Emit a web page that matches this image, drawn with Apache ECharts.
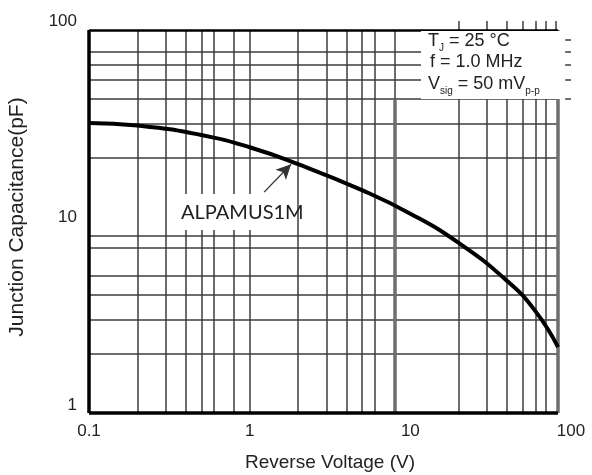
<!DOCTYPE html>
<html>
<head>
<meta charset="utf-8">
<script src="https://cdn.jsdelivr.net/npm/echarts@6/dist/echarts.min.js"></script>
<style>
  html, body { margin: 0; padding: 0; background: #fff; }
  #main { width: 592px; height: 475px; }
</style>
</head>
<body>
<div id="main"></div>
<script>
// curve
var voltage = [0.1, 0.2, 0.5, 1, 2, 5, 10, 20, 40, 60, 83];
var capacitance = [30.2, 29.3, 26.2, 22.7, 18.6, 13.7, 10.4, 7.37, 4.72, 3.31, 2.17];

// tick labels
var xTickLabels = ['0.1', '1', '10', '100'];
var yTickLabels = ['1', '10', '100'];

// printed grid of the sheet
var xGrid = [0.2, 0.3, 0.4, 0.5, 0.6, 0.8, 1, 2, 3, 4, 5, 6, 20, 30, 40, 50, 60, 70];
var yGrid = [2, 3, 4, 5, 7, 8, 20, 30, 40, 50, 60, 70];
var xFrame = [0.1, 83];
var yFrame = [1, 90];

var thin = { color: '#3c3c3c', width: 1.5, type: 'solid' };
var heavy = { color: '#6e6e6e', width: 3.5, type: 'solid' };
var border = { color: '#000', width: 2.5, type: 'solid' };
var thick = { color: '#000', width: 3.5, type: 'solid' };

function seg(x1, y1, x2, y2, st) {
  return [{ coord: [x1, y1], lineStyle: st }, { coord: [x2, y2], lineStyle: st }];
}

var gridLines = [];
xGrid.forEach(function (x) { gridLines.push(seg(x, yFrame[0], x, yFrame[1], thin)); });
yGrid.forEach(function (y) { gridLines.push(seg(xFrame[0], y, xFrame[1], y, thin)); });
// the 8 V line is drawn heavy below 40 pF
gridLines.push(seg(8, 40, 8, yFrame[1], thin));
gridLines.push(seg(8, yFrame[0], 8, 40, heavy));
// stubs poking out above the frame in the note corner
[20, 30, 40, 50, 60, 70, 80].forEach(function (x) { gridLines.push(seg(x, yFrame[1], x, 100, thin)); });
// dashes right of the note
[80, 70, 60, 50, 40].forEach(function (y) { gridLines.push(seg(92, y, 100, y, thin)); });
// frame
gridLines.push(seg(xFrame[1], yFrame[0], xFrame[1], yFrame[1], heavy));
gridLines.push(seg(xFrame[0], yFrame[1], xFrame[1], yFrame[1], border));
gridLines.push(seg(xFrame[0], yFrame[0], xFrame[1], yFrame[0], thick));
gridLines.push(seg(xFrame[0], yFrame[0], xFrame[0], yFrame[1], thick));

function pick(list, v) {
  for (var i = 0; i < list.length; i++) {
    if (Math.abs(Math.log10(+list[i]) - Math.log10(v)) < 1e-6) return list[i];
  }
  return '';
}

var font = 'Liberation Sans, Arial, sans-serif';
var myChart = echarts.init(document.getElementById('main'));

var option = {
  animation: false,
  grid: { left: 89, right: 21, top: 21, bottom: 62, outerBoundsMode: 'none' },
  xAxis: {
    type: 'log',
    logBase: 10,
    min: 0.1,
    max: 100,
    axisLine: { show: false },
    axisTick: { show: false },
    splitLine: { show: false },
    axisLabel: {
      color: '#222',
      fontFamily: font,
      fontSize: 17,
      margin: 10,
      formatter: function (v) { return pick(xTickLabels, v); }
    },
    name: 'Reverse Voltage (V)',
    nameLocation: 'middle',
    nameGap: 40,
    nameTextStyle: { color: '#222', fontFamily: font, fontSize: 19 }
  },
  yAxis: {
    type: 'log',
    logBase: 10,
    min: 1,
    max: 100,
    axisLine: { show: false },
    axisTick: { show: false },
    splitLine: { show: false },
    axisLabel: {
      color: '#222',
      fontFamily: font,
      fontSize: 17,
      margin: 12,
      formatter: function (v) {
        var t = pick(yTickLabels, v);
        return t === '1' ? '{lift|1}' : t;
      },
      rich: { lift: { fontFamily: font, fontSize: 17, color: '#222', padding: [0, 0, 16, 0] } }
    },
    name: 'Junction Capacitance(pF)',
    nameLocation: 'middle',
    nameGap: 61,
    nameTextStyle: { color: '#222', fontFamily: font, fontSize: 21 }
  },
  series: [
    {
      type: 'line',
      data: [],
      z: 1,
      silent: true,
      markLine: {
        silent: true,
        animation: false,
        symbol: ['none', 'none'],
        lineStyle: { type: 'solid' },
        label: { show: false },
        emphasis: { disabled: true },
        data: gridLines
      }
    },
    {
      type: 'line',
      z: 5,
      smooth: 0.5,
      symbol: 'none',
      lineStyle: { color: '#000', width: 4 },
      data: voltage.map(function (v, i) { return [v, capacitance[i]]; }),
      markLine: {
        silent: true,
        animation: false,
        label: { show: false },
        lineStyle: { type: 'solid' },
        emphasis: { disabled: true },
        data: [
          [
            { coord: [1.23, 13.4], symbol: 'none', lineStyle: { color: '#333', width: 1.3, type: 'solid' } },
            { coord: [1.81, 18.6], symbol: 'arrow', symbolSize: [11, 15], lineStyle: { color: '#333', width: 1.3, type: 'solid' } }
          ]
        ]
      }
    }
  ],
  graphic: [
    { type: 'rect', z: 10, shape: { x: 421, y: 31, width: 142, height: 68 }, style: { fill: '#fff' } },
    { type: 'rect', z: 10, shape: { x: 170, y: 194, width: 125, height: 36 }, style: { fill: '#fff' } },
    {
      type: 'text', z: 11, x: 428, y: 30,
      style: {
        text: '{a|T}{b|J}{a| = 25 °C}',
        rich: {
          a: { fontFamily: font, fontSize: 18, fill: '#222', lineHeight: 23 },
          b: { fontFamily: font, fontSize: 10, fill: '#222', lineHeight: 10, verticalAlign: 'bottom' }
        }
      }
    },
    {
      type: 'text', z: 11, x: 430, y: 53,
      style: { text: 'f = 1.0 MHz', font: '18px ' + font, fill: '#222' }
    },
    {
      type: 'text', z: 11, x: 428, y: 73,
      style: {
        text: '{a|V}{b|sig}{a| = 50 mV}{b|p-p}',
        rich: {
          a: { fontFamily: font, fontSize: 18, fill: '#222', lineHeight: 23 },
          b: { fontFamily: font, fontSize: 10, fill: '#222', lineHeight: 10, verticalAlign: 'bottom' }
        }
      }
    },
    {
      type: 'text', z: 11, x: 181, y: 203,
      style: { text: 'ALPAMUS1M', font: '20px Lato, sans-serif', fill: '#202020' }
    }
  ]
};

myChart.setOption(option);
</script>
</body>
</html>
